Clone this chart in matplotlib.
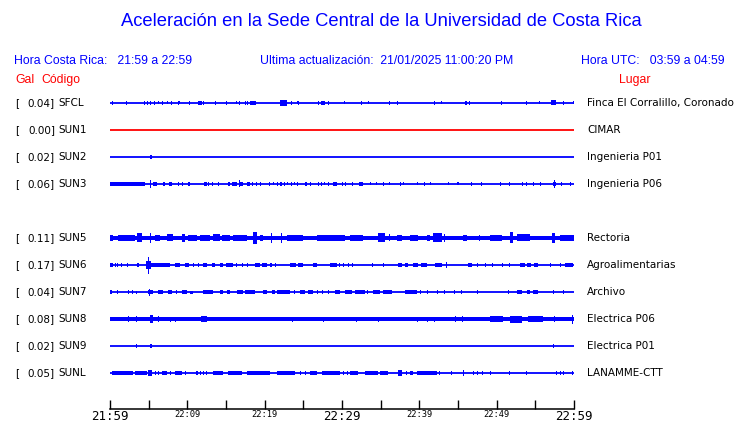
import matplotlib
matplotlib.use("Agg")
import matplotlib.pyplot as plt
from matplotlib import transforms

# estaciones, filas (la fila 4 queda vacia: SUN4 sin datos)
codes = ["SFCL", "SUN1", "SUN2", "SUN3", "SUN5", "SUN6", "SUN7", "SUN8", "SUN9", "SUNL"]
rows = [0, 1, 2, 3, 5, 6, 7, 8, 9, 10]
pga = [0.04, 0.00, 0.02, 0.06, 0.11, 0.17, 0.04, 0.08, 0.02, 0.05]
places = ["Finca El Corralillo, Coronado", "CIMAR", "Ingenieria P01", "Ingenieria P06",
          "Rectoria", "Agroalimentarias", "Archivo", "Electrica P06", "Electrica P01",
          "LANAMME-CTT"]
trace_colors = ["#0000ff", "#ff0000", "#0000ff", "#0000ff", "#0000ff",
                "#0000ff", "#0000ff", "#0000ff", "#0000ff", "#0000ff"]
# ancho del ruido de fondo (misma escala que las amplitudes de los eventos)
base_amp = [0, 0, 0, 0, 2.3, 0, 0, 1.7, 0, 0]

# minutos desde 21:59
t_start, t_end = 0, 60
tick_minutes = list(range(0, 61, 5))
tick_labels = ["21:59", "", "22:09", "", "22:19", "", "22:29", "", "22:39", "", "22:49", "", "22:59"]
big_labels = ["21:59", "22:29", "22:59"]

# eventos: (minuto inicio, minuto fin, amplitud)
sfcl_events = [(0.26, 0.26, 2), (2.07, 2.07, 2), (4.4, 4.4, 2), (4.9, 4.9, 2), (5.3, 5.3, 2),
               (5.8, 5.8, 2), (6.3, 6.3, 1.5), (6.85, 6.85, 2), (7.4, 7.4, 1.5), (7.9, 7.9, 2),
               (8.8, 8.8, 2), (9.05, 9.05, 1.5), (10.3, 10.3, 2), (11.4, 11.9, 2), (12.0, 12.1, 2),
               (13.7, 13.7, 2), (15.1, 15.1, 2), (16.3, 16.3, 1.5), (16.8, 16.8, 2), (17.5, 17.5, 2),
               (17.7, 17.8, 2), (18.1, 18.9, 2), (22.0, 22.9, 3), (23.5, 23.5, 2), (24.2, 24.2, 1.5),
               (24.4, 24.4, 2), (26.9, 26.9, 2), (27.3, 27.8, 2), (28.3, 28.3, 2), (30.3, 30.3, 1.5),
               (32.5, 32.5, 2), (33.4, 33.4, 1.5), (36.2, 36.2, 2), (37.1, 37.2, 2), (41.9, 41.9, 2),
               (42.9, 42.9, 1.5), (45.9, 46.1, 2), (46.5, 46.5, 2), (50.6, 50.6, 2), (53.8, 53.8, 2),
               (55.5, 55.5, 1.5), (57.0, 57.7, 2.5), (58.6, 58.6, 2), (59.9, 59.9, 1.5)]
sun1_events = []
sun2_events = [(5.2, 5.45, 2)]
sun3_events = [(0.0, 4.5, 1.8), (5.26, 5.26, 4), (5.6, 6.1, 2), (6.85, 7.1, 2), (7.6, 8.0, 2),
               (8.8, 8.8, 2), (9.4, 9.4, 2), (10.1, 10.3, 2), (12.2, 12.5, 2), (12.8, 12.8, 2),
               (13.2, 13.2, 2), (14.0, 14.0, 2), (15.3, 15.5, 2), (15.8, 16.4, 2), (16.7, 16.7, 3.5),
               (16.8, 17.2, 2), (17.7, 18.1, 2), (18.4, 18.5, 2), (18.9, 18.9, 2), (19.4, 19.4, 2),
               (20.6, 20.6, 2), (21.1, 21.1, 1.5), (21.6, 21.6, 2), (22.0, 22.2, 2), (22.6, 22.6, 2),
               (23.0, 23.0, 1.5), (23.5, 23.5, 2), (23.9, 23.9, 1.5), (24.3, 24.3, 2), (25.2, 25.5, 2),
               (25.9, 25.9, 2), (26.9, 26.9, 2), (27.4, 27.4, 2), (27.7, 27.7, 1.5), (28.2, 28.2, 2),
               (28.8, 29.4, 2), (30.1, 30.1, 2), (30.5, 30.5, 2), (31.3, 31.4, 2), (32.2, 32.7, 2),
               (33.7, 33.7, 1.5), (34.5, 34.5, 1.5), (35.4, 35.4, 2), (36.2, 36.2, 1.5), (37.6, 37.6, 2),
               (38.0, 38.0, 1.5), (39.7, 39.7, 1.5), (40.7, 40.7, 2), (41.5, 41.5, 1.5), (43.8, 43.8, 1.5),
               (45.0, 45.0, 1.5), (46.8, 46.8, 2), (48.1, 48.1, 2), (50.4, 50.6, 2), (51.6, 51.6, 2),
               (53.3, 53.3, 2), (53.9, 53.9, 2), (54.8, 54.8, 2), (55.7, 55.7, 2), (57.3, 57.7, 2),
               (57.5, 57.5, 4), (58.4, 58.4, 2), (59.6, 59.6, 2)]
sun5_events = [(0.0, 0.4, 3), (1.0, 3.2, 3), (3.5, 4.1, 4.5), (5.2, 5.2, 5), (5.8, 6.5, 3),
               (7.4, 8.1, 3.5), (9.3, 9.7, 4), (10.1, 11.2, 3), (11.6, 12.9, 2.8), (13.3, 14.2, 3.5),
               (14.5, 15.5, 2.8), (15.9, 17.7, 3.2), (18.5, 19.0, 6), (19.4, 19.8, 3.2), (20.9, 20.9, 5),
               (22.2, 22.2, 5), (22.9, 25.0, 3), (26.8, 30.4, 3), (31.0, 32.7, 2.8), (34.7, 35.6, 4.5),
               (36.2, 36.2, 3.5), (37.1, 37.8, 3), (38.8, 39.8, 3), (41.0, 41.4, 3.2), (41.8, 42.9, 4.5),
               (43.3, 43.3, 4), (45.6, 46.2, 3.2), (47.8, 47.8, 3), (49.1, 50.7, 3), (51.7, 52.1, 5.5),
               (52.6, 54.3, 3.5), (57.2, 57.5, 5), (58.2, 60.0, 3)]
sun6_events = [(0.0, 0.4, 2), (0.65, 0.65, 2), (1.03, 1.03, 2), (1.55, 1.55, 2), (2.2, 2.2, 2),
               (3.5, 3.75, 2), (4.6, 5.3, 4), (4.85, 5.05, 8.5), (5.3, 7.8, 1.8), (8.4, 9.05, 2),
               (9.7, 10.2, 2), (10.86, 10.86, 2), (11.38, 11.38, 2), (12.0, 12.5, 2), (13.2, 13.6, 2),
               (14.2, 14.6, 2), (15.0, 15.9, 2), (16.42, 16.42, 2), (17.07, 17.07, 2), (17.72, 17.72, 2),
               (18.75, 19.4, 2), (19.6, 20.3, 2), (20.7, 20.95, 2), (21.34, 21.34, 2), (23.3, 24.0, 2),
               (24.3, 25.0, 2), (26.25, 26.8, 2), (28.45, 29.35, 2), (29.74, 29.74, 2), (30.13, 30.13, 2),
               (30.78, 30.78, 2), (31.42, 31.42, 2), (34.0, 34.0, 2), (35.43, 35.43, 2), (37.24, 37.8, 2),
               (38.1, 38.53, 2), (39.18, 39.8, 2), (40.2, 41.0, 2), (42.0, 42.9, 2), (43.45, 43.45, 3),
               (46.3, 46.8, 2), (47.46, 47.46, 2), (48.5, 48.5, 2), (49.5, 49.5, 2), (50.7, 50.7, 2),
               (51.7, 51.7, 2), (53.0, 53.6, 2), (53.9, 54.5, 2), (54.8, 55.3, 2), (56.9, 56.9, 2),
               (58.2, 58.2, 2), (58.8, 59.9, 2)]
sun7_events = [(0.0, 0.26, 2), (1.03, 1.03, 2), (2.33, 2.33, 2), (2.97, 2.97, 2), (3.49, 3.49, 1.5),
               (4.9, 5.56, 2), (5.17, 5.17, 3.5), (6.2, 6.85, 2), (7.5, 8.0, 2), (8.66, 8.66, 2),
               (9.3, 9.96, 2), (10.3, 10.7, 1.5), (12.0, 13.3, 2), (14.2, 14.6, 2), (15.1, 15.5, 2),
               (16.4, 17.2, 2), (17.46, 18.75, 2), (19.8, 20.3, 2), (20.95, 21.34, 2), (21.6, 23.3, 2),
               (23.9, 23.9, 2), (24.6, 25.2, 2), (25.6, 26.25, 2), (26.77, 26.77, 2), (27.5, 27.5, 2),
               (28.2, 28.2, 2), (29.1, 29.74, 2), (30.4, 31.3, 2), (31.7, 33.0, 2), (33.36, 33.36, 2),
               (34.0, 34.9, 2), (35.3, 36.5, 2), (38.1, 39.7, 2), (40.1, 40.1, 2), (41.1, 41.1, 2),
               (42.3, 42.3, 2), (43.3, 43.3, 2), (44.6, 44.6, 2), (45.5, 45.5, 2), (47.5, 47.5, 2),
               (51.5, 51.5, 2), (52.6, 53.3, 2), (53.9, 54.3, 2), (54.7, 55.3, 2), (57.3, 57.3, 2),
               (58.6, 58.6, 2)]
sun8_events = [(2.33, 2.33, 3), (3.49, 3.49, 3), (5.17, 5.56, 4), (6.21, 6.21, 3), (7.76, 7.76, 2.5),
               (8.5, 8.5, 2.5), (11.77, 12.54, 3), (23.66, 23.66, 2.5), (27.67, 27.67, 2.5),
               (31.9, 31.9, 2.5), (34.66, 34.66, 2.5), (39.7, 39.7, 2.5), (41.0, 41.0, 2.5),
               (42.0, 42.0, 2.5), (44.74, 44.74, 3), (45.52, 45.52, 3), (49.14, 50.82, 3),
               (51.72, 53.28, 3.5), (54.05, 55.99, 3), (57.54, 57.54, 3), (59.74, 59.87, 4.5)]
sun9_events = [(3.49, 3.49, 2), (5.17, 5.43, 2), (57.4, 57.4, 2)]
sunl_events = [(0.26, 2.97, 1.6), (3.23, 4.78, 1.6), (4.91, 5.43, 3), (5.82, 5.82, 2), (6.21, 6.21, 2),
               (6.72, 7.37, 1.6), (7.76, 7.76, 2), (8.41, 9.31, 1.6), (9.7, 9.7, 2), (11.25, 11.25, 2),
               (11.64, 11.64, 2), (12.03, 12.03, 2), (12.54, 12.54, 2), (13.32, 14.61, 1.6),
               (15.26, 17.07, 1.6), (17.72, 20.69, 1.6), (21.59, 23.92, 1.6), (24.57, 24.57, 2),
               (25.22, 25.22, 2), (25.86, 26.77, 1.6), (27.41, 29.74, 1.6), (30.13, 30.13, 2),
               (30.65, 30.65, 2), (31.03, 32.07, 1.6), (32.97, 34.66, 1.6), (34.91, 35.95, 1.6),
               (37.24, 37.76, 3), (38.4, 38.4, 2), (38.79, 39.18, 1.6), (39.7, 42.28, 1.6),
               (42.67, 42.67, 2), (44.22, 44.22, 2), (45.65, 45.65, 3), (46.94, 46.94, 2),
               (47.46, 47.46, 2), (48.23, 48.23, 2), (49.14, 49.14, 2), (51.72, 51.72, 2),
               (53.92, 53.92, 2), (57.8, 57.8, 2), (58.19, 58.19, 2), (58.58, 58.58, 2), (59.87, 59.87, 2)]
events = [sfcl_events, sun1_events, sun2_events, sun3_events, sun5_events,
          sun6_events, sun7_events, sun8_events, sun9_events, sunl_events]

ROW_PX = 27.0   # separacion entre trazas, en la escala de las amplitudes
BLUE = "#0000ff"
RED = "#ff0000"
W, H = 740, 423

fig = plt.figure(figsize=(W / 100, H / 100), dpi=100)
# area de trazas: de 21:59 (x=110) a 22:59 (x=574), eje de tiempo en y=409
ax = fig.add_axes([110 / W, 1 - 409 / H, 464 / W, (409 - 89.5) / H])
ax.set_xlim(t_start, t_end)
ax.set_ylim(rows[-1] + 36 / ROW_PX, -0.5)

for row, col, b, ev in zip(rows, trace_colors, base_amp, events):
    ax.plot([t_start, t_end], [row, row], color=col, lw=1.3, solid_capstyle="butt")
    if b:
        ax.fill_between([t_start, t_end], row - b / ROW_PX, row + b / ROW_PX, color=col, lw=0)
    if ev:
        centers = [(a + c) / 2 for a, c, _ in ev]
        widths = [max(c - a, 0.13) for a, c, _ in ev]
        heights = [2 * amp / ROW_PX for _, _, amp in ev]
        bottoms = [row - amp / ROW_PX for _, _, amp in ev]
        ax.bar(centers, heights, width=widths, bottom=bottoms, color=col, lw=0)

for s in ["left", "right", "top"]:
    ax.spines[s].set_visible(False)
ax.spines["bottom"].set_linewidth(1.1)
ax.set_yticks([])
ax.set_xticks(tick_minutes)
ax.set_xticklabels(tick_labels, family="DejaVu Sans Mono")
ax.tick_params(axis="x", direction="in", length=6.5, width=1.0, pad=0.5, color="black")
for lab in ax.get_xticklabels():
    if lab.get_text() in big_labels:
        lab.set_fontsize(9)
    else:
        lab.set_fontsize(6.3)

# etiquetas de cada fila (x en figura, y en datos)
trans = transforms.blended_transform_factory(fig.transFigure, ax.transData)
for row, g, code, place in zip(rows, pga, codes, places):
    ax.text(15 / W, row, "[", transform=trans, ha="left", va="center", fontsize=7.5, color="black")
    ax.text(55 / W, row, f"{g:.2f}]", transform=trans, ha="right", va="center", fontsize=7.5,
            color="black")
    ax.text(58.5 / W, row, code, transform=trans, ha="left", va="center", fontsize=7.5, color="black")
    ax.text(587 / W, row, place, transform=trans, ha="left", va="center", fontsize=7.5, color="black")

hfont = "Liberation Sans"
fig.text(381 / W, 1 - 21 / H, "Aceleración en la Sede Central de la Universidad de Costa Rica",
         ha="center", va="center", fontsize=13.2, color=BLUE, family=hfont)
fig.text(14 / W, 1 - 61 / H, "Hora Costa Rica:   21:59 a 22:59", ha="left", va="center",
         fontsize=8.8, color=BLUE, family=hfont)
fig.text(260 / W, 1 - 61 / H, "Ultima actualización:  21/01/2025 11:00:20 PM", ha="left",
         va="center", fontsize=8.8, color=BLUE, family=hfont)
fig.text(725 / W, 1 - 61 / H, "Hora UTC:   03:59 a 04:59", ha="right", va="center",
         fontsize=8.8, color=BLUE, family=hfont)
fig.text(15 / W, 1 - 80 / H, "Gal", ha="left", va="center", fontsize=8.8, color=RED, family=hfont)
fig.text(41 / W, 1 - 80 / H, "Código", ha="left", va="center", fontsize=8.8, color=RED, family=hfont)
fig.text(651 / W, 1 - 80 / H, "Lugar", ha="right", va="center", fontsize=8.8, color=RED, family=hfont)

fig.savefig("out.png", dpi=100)
